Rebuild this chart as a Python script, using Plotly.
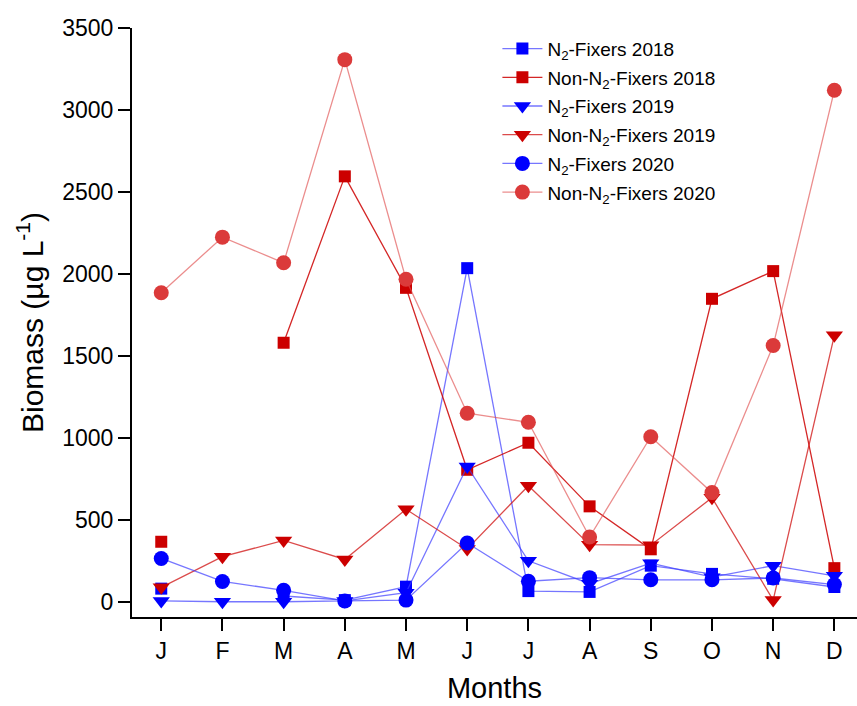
import plotly.graph_objects as go

months = ["J", "F", "M", "A", "M", "J", "J", "A", "S", "O", "N", "D"]
month_pos = list(range(1, 13))

n2_2018 = [80, None, 35, 10, 92, 2035, 65, 60, 220, 170, 140, 90]
non_n2_2018 = [366, None, 1580, 2595, 1915, 805, 970, 582, 320, 1848, 2017, 205]
n2_2019 = [5, 0, 0, 5, 55, 825, 250, 110, 235, 150, 220, 158]
non_n2_2019 = [88, 275, 374, 258, 564, 322, 708, 348, 345, 635, 10, 1625]
n2_2020 = [264, 124, 70, 5, 10, 358, 125, 147, 134, 134, 145, 105]
non_n2_2020 = [1885, 2224, 2068, 3307, 1967, 1150, 1095, 395, 1007, 666, 1563, 3120]

y_ticks = [0, 500, 1000, 1500, 2000, 2500, 3000, 3500]

series = [
    ("N<sub>2</sub>-Fixers 2018", n2_2018, "square", 12, "#0000FF", "rgba(60,60,255,0.7)"),
    ("Non-N<sub>2</sub>-Fixers 2018", non_n2_2018, "square", 12, "#CC0000", "rgba(204,0,0,0.85)"),
    ("N<sub>2</sub>-Fixers 2019", n2_2019, "triangle-down", 15, "#0000FF", "rgba(60,60,255,0.7)"),
    ("Non-N<sub>2</sub>-Fixers 2019", non_n2_2019, "triangle-down", 15, "#CC0000", "rgba(210,30,30,0.8)"),
    ("N<sub>2</sub>-Fixers 2020", n2_2020, "circle", 15, "#0000FF", "rgba(60,60,255,0.7)"),
    ("Non-N<sub>2</sub>-Fixers 2020", non_n2_2020, "circle", 15, "#DB3A3A", "rgba(225,80,80,0.65)"),
]

fig = go.Figure()
for i, (name, vals, sym, size, mcol, lcol) in enumerate(series):
    fig.add_trace(go.Scatter(
        x=month_pos, y=vals, name=name, mode="lines+markers",
        connectgaps=False, cliponaxis=False, legendgroup=f"g{i}",
        marker=dict(symbol=sym, size=size, color=mcol, line=dict(width=0)),
        line=dict(color=lcol, width=1.3),
    ))

font_family = "Liberation Sans, Arial, sans-serif"
fig.update_layout(
    width=857, height=706, autosize=False,
    margin=dict(l=132, r=0, t=28, b=89),
    paper_bgcolor="white", plot_bgcolor="white",
    font=dict(family=font_family, color="black"),
    showlegend=True,
    legend=dict(
        x=0.504, y=0.997, xanchor="left", yanchor="top",
        font=dict(size=19, family=font_family),
        bgcolor="rgba(0,0,0,0)", tracegroupgap=1, itemwidth=40,
        traceorder="grouped",
    ),
    xaxis=dict(
        range=[0.522, 12.37], tickmode="array", tickvals=month_pos, ticktext=months,
        showline=True, linecolor="black", linewidth=2, ticks="outside",
        ticklen=12, tickwidth=1.5, tickcolor="black", showgrid=False, zeroline=False,
        tickfont=dict(size=23), title=dict(text="Months", font=dict(size=29), standoff=15),
    ),
    yaxis=dict(
        range=[-93, 3500], tickmode="array", tickvals=y_ticks,
        showline=True, linecolor="black", linewidth=2, ticks="outside",
        ticklen=12, tickwidth=1.5, tickcolor="black", showgrid=False, zeroline=False,
        tickfont=dict(size=23), title=dict(text="Biomass (µg L<sup>-1</sup>)", font=dict(size=30), standoff=10),
    ),
)

fig.write_html("out.html")
